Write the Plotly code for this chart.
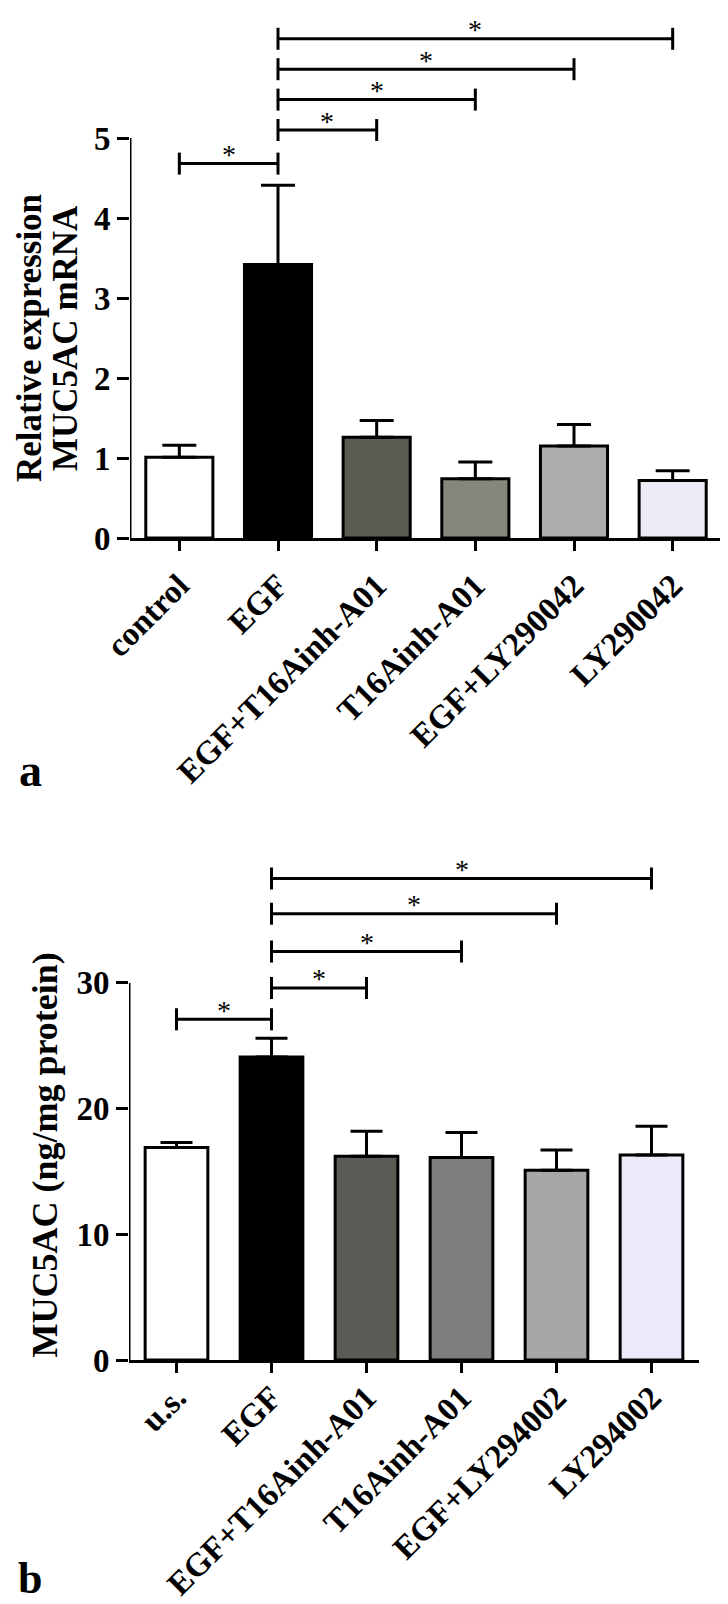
import plotly.graph_objects as go

# ---------------- data ----------------
cats_a = ["control", "EGF", "EGF+T16Ainh-A01", "T16Ainh-A01", "EGF+LY290042", "LY290042"]
vals_a = [1.01, 3.42, 1.26, 0.74, 1.15, 0.72]
err_a = [0.15, 0.99, 0.21, 0.21, 0.27, 0.12]
yticks_a = [0, 1, 2, 3, 4, 5]
sig_pairs_a = [(0, 1), (1, 2), (1, 3), (1, 4), (1, 5)]
sig_heights_a = [4.68, 5.10, 5.48, 5.86, 6.24]

cats_b = ["u.s.", "EGF", "EGF+T16Ainh-A01", "T16Ainh-A01", "EGF+LY294002", "LY294002"]
vals_b = [16.9, 24.1, 16.2, 16.1, 15.1, 16.3]
err_b = [0.4, 1.5, 2.0, 2.0, 1.6, 2.3]
yticks_b = [0, 10, 20, 30]
sig_pairs_b = [(0, 1), (1, 2), (1, 3), (1, 4), (1, 5)]
sig_heights_b = [27.1, 29.6, 32.5, 35.5, 38.3]

colors_a = ["#ffffff", "#000000", "#5c5c55", "#86867f", "#adadb0", "#ececf6"]
colors_b = ["#ffffff", "#000000", "#5b5b56", "#7e7e7c", "#a7a7aa", "#eaeafa"]

W, H = 728, 1604
FONT = "Liberation Serif, Times New Roman, serif"

fig = go.Figure()

fig.add_trace(go.Bar(
    x=cats_a, y=vals_a, width=0.68,
    marker=dict(color=colors_a, line=dict(color="black", width=3)),
    error_y=dict(type="data", array=err_a, arrayminus=[0] * len(err_a), symmetric=False,
                 color="black", thickness=3, width=17),
    xaxis="x", yaxis="y", showlegend=False, hoverinfo="skip"))

fig.add_trace(go.Bar(
    x=cats_b, y=vals_b, width=0.66,
    marker=dict(color=colors_b, line=dict(color="black", width=3)),
    error_y=dict(type="data", array=err_b, arrayminus=[0] * len(err_b), symmetric=False,
                 color="black", thickness=3, width=16),
    xaxis="x2", yaxis="y2", showlegend=False, hoverinfo="skip"))

tickfont_x = dict(family=FONT, size=33, color="black", weight="bold")
tickfont_y = dict(family=FONT, size=33, color="black", weight="bold")

# pixel geometry
a_left, a_right, a_zero, a_ppu = 122, 714, 530, 80.0
a_top_val = a_zero / a_ppu
b_left, b_right, b_zero, b_ppu = 121, 691, 1352, 12.57
b_top_val = 41

common_x = dict(range=[-0.5, 5.5], showline=True, linewidth=3, linecolor="black",
                ticks="outside", ticklen=10, tickwidth=3, tickcolor="black",
                tickangle=-45, tickfont=tickfont_x, showgrid=False, zeroline=False,
                automargin=False)
common_y = dict(showline=False, ticks="outside", ticklen=12, tickwidth=3, tickcolor="black",
                tickfont=tickfont_y, showgrid=False, zeroline=False, automargin=False)

fig.update_layout(
    template="none",
    width=W, height=H, margin=dict(l=0, r=0, t=0, b=0, autoexpand=False),
    paper_bgcolor="white", plot_bgcolor="rgba(0,0,0,0)",
    xaxis=dict(domain=[a_left / W, a_right / W], anchor="y", ticklabelstandoff=2, **common_x),
    yaxis=dict(domain=[1 - a_zero / H, 1], range=[0, a_top_val], tickvals=yticks_a,
               anchor="x", **common_y),
    xaxis2=dict(domain=[b_left / W, b_right / W], anchor="y2", ticklabelstandoff=-8, **common_x),
    yaxis2=dict(domain=[1 - b_zero / H, 1 - (b_zero - b_top_val * b_ppu) / H],
                range=[0, b_top_val], tickvals=yticks_b, anchor="x2", **common_y),
)

shapes = []
annotations = []

# y-axis lines (only up to last tick)
shapes.append(dict(type="line", xref="x", yref="y", x0=-0.5, x1=-0.5, y0=0, y1=max(yticks_a),
                   line=dict(color="black", width=3)))
shapes.append(dict(type="line", xref="x2", yref="y2", x0=-0.5, x1=-0.5, y0=0, y1=max(yticks_b),
                   line=dict(color="black", width=3)))


def add_brackets(pairs, heights, xref, yref, half_tick):
    for (i, j), h in zip(pairs, heights):
        shapes.append(dict(type="line", xref=xref, yref=yref, x0=i, x1=j, y0=h, y1=h,
                           line=dict(color="black", width=3)))
        for xx in (i, j):
            shapes.append(dict(type="line", xref=xref, yref=yref, x0=xx, x1=xx,
                               y0=h - half_tick, y1=h + half_tick,
                               line=dict(color="black", width=3)))
        annotations.append(dict(xref=xref, yref=yref, x=(i + j) / 2, y=h, text="*",
                                showarrow=False, yanchor="middle", yshift=9,
                                font=dict(family=FONT, size=28, color="black")))


add_brackets(sig_pairs_a, sig_heights_a, "x", "y", 11 / a_ppu)
add_brackets(sig_pairs_b, sig_heights_b, "x2", "y2", 11 / b_ppu)

# y titles
title_a_lines = ["Relative expression", "MUC5AC mRNA"]
for txt, xpx in zip(title_a_lines, [21, 57]):
    annotations.append(dict(xref="paper", yref="y", x=xpx / W, y=max(yticks_a) / 2,
                            text=txt, textangle=-90,
                            showarrow=False, xanchor="center", yanchor="middle",
                            font=dict(family=FONT, size=35, color="black", weight="bold")))
annotations.append(dict(xref="paper", yref="y2", x=36 / W, y=0,
                        text="MUC5AC (ng/mg protein)", textangle=-90,
                        showarrow=False, xanchor="center", yanchor="bottom",
                        font=dict(family=FONT, size=36, color="black", weight="bold")))

# panel letters
annotations.append(dict(xref="paper", yref="paper", x=22 / W, y=1 - 762 / H, text="a",
                        showarrow=False, xanchor="center", yanchor="middle",
                        font=dict(family=FONT, size=46, color="black", weight="bold")))
annotations.append(dict(xref="paper", yref="paper", x=22 / W, y=1 - 1570 / H, text="b",
                        showarrow=False, xanchor="center", yanchor="middle",
                        font=dict(family=FONT, size=44, color="black", weight="bold")))

fig.update_layout(shapes=shapes, annotations=annotations)

fig.write_html("out.html")
